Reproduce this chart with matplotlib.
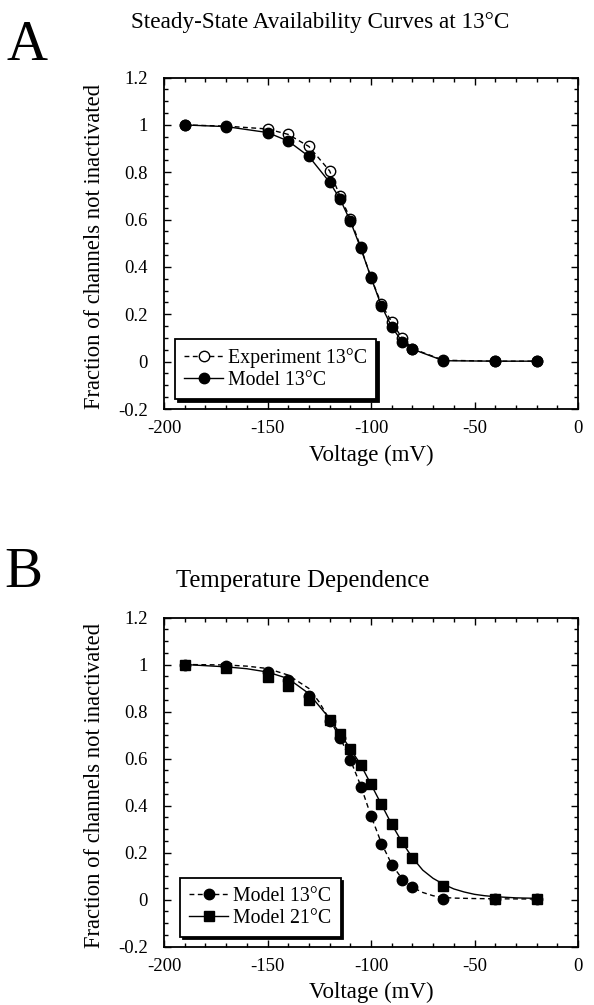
import matplotlib
matplotlib.use('Agg')
import matplotlib.pyplot as plt
from matplotlib.ticker import MultipleLocator
from matplotlib.lines import Line2D

plt.rcParams['font.family'] = ['Liberation Serif', 'DejaVu Serif']
plt.rcParams['axes.unicode_minus'] = False

# ---- data (markers) ----
voltage = [-190, -170, -150, -140, -130, -120, -115, -110, -105, -100,
           -95, -90, -85, -80, -65, -40, -20]
exp13 = [1.0, 0.995, 0.983, 0.96, 0.909, 0.806, 0.70, 0.604, 0.485, 0.355,
         0.244, 0.167, 0.10, 0.055, 0.006, 0.002, 0.002]
model13 = [1.0, 0.993, 0.968, 0.932, 0.867, 0.758, 0.688, 0.594, 0.48, 0.356,
           0.236, 0.147, 0.085, 0.053, 0.004, 0.002, 0.002]
model21 = [1.0, 0.983, 0.945, 0.908, 0.851, 0.763, 0.706, 0.642, 0.574, 0.49,
           0.405, 0.32, 0.244, 0.178, 0.057, 0.002, 0.002]

# ---- smooth curves in panel B ----
curve_v13 = [-190, -170, -160, -150, -140, -130, -125, -120, -115, -110, -105,
             -100, -95, -90, -85, -80, -75, -70, -65, -60, -50, -40, -20]
curve13 = [1.0, 0.998, 0.993, 0.983, 0.955, 0.898, 0.84, 0.765, 0.69, 0.595,
           0.485, 0.356, 0.24, 0.15, 0.088, 0.052, 0.03, 0.016, 0.009, 0.006,
           0.004, 0.003, 0.002]
curve_v21 = [-190, -170, -160, -150, -140, -130, -120, -115, -110, -105, -100,
             -95, -90, -85, -80, -75, -70, -65, -60, -55, -50, -45, -40, -30, -20]
curve21 = [1.0, 0.99, 0.982, 0.968, 0.94, 0.876, 0.77, 0.706, 0.642, 0.574,
           0.49, 0.405, 0.32, 0.244, 0.178, 0.125, 0.09, 0.065, 0.045, 0.032,
           0.022, 0.016, 0.012, 0.007, 0.005]

xticks = [-200, -150, -100, -50, 0]
xticklabels = ['-200', '-150', '-100', '-50', '0']
yticks = [-0.2, 0, 0.2, 0.4, 0.6, 0.8, 1.0, 1.2]
yticklabels = ['-0.2', '0', '0.2', '0.4', '0.6', '0.8', '1', '1.2']

title_a = 'Steady-State Availability Curves at 13°C'
title_b = 'Temperature Dependence'
xlabel = 'Voltage (mV)'
ylabel = 'Fraction of channels not inactivated'

W, H = 594, 1005
fig = plt.figure(figsize=(W / 100, H / 100), dpi=100)
axA = fig.add_axes([164 / W, 1 - 409 / H, 414 / W, 331.4 / H])
axB = fig.add_axes([164 / W, 1 - 946.5 / H, 414 / W, 329 / H])

DASH = (0, (3.5, 2.5))


def style(ax):
    ax.set_xlim(-200, 0)
    ax.set_ylim(-0.2, 1.2)
    ax.set_xticks(xticks)
    ax.set_xticklabels(xticklabels)
    ax.set_yticks(yticks)
    ax.set_yticklabels(yticklabels)
    ax.xaxis.set_minor_locator(MultipleLocator(10))
    ax.yaxis.set_minor_locator(MultipleLocator(0.05))
    ax.tick_params(which='both', direction='in', top=True, right=True,
                   width=1.0, labelsize=13.5)
    ax.tick_params(which='major', length=5)
    ax.tick_params(which='minor', length=3)
    ax.tick_params(axis='x', which='major', pad=8)
    ax.tick_params(axis='y', which='major', pad=11.5)
    for s in ax.spines.values():
        s.set_linewidth(1.3)
    ax.set_xlabel(xlabel, fontsize=16.5)
    ax.set_ylabel(ylabel, fontsize=16.3)
    ax.xaxis.set_label_coords(0.5, -0.108)
    ax.yaxis.set_label_coords(-0.143, 0.49)


def legend(ax, handles, x):
    leg = ax.legend(handles=handles, loc='lower left', bbox_to_anchor=(x, 0.03),
                    borderaxespad=0, fontsize=14.3, frameon=True,
                    fancybox=False, edgecolor='black', framealpha=1,
                    shadow={'color': 'black', 'alpha': 1},
                    handlelength=2.0, handletextpad=0.25, labelspacing=0.15,
                    borderpad=0.45)
    leg.get_frame().set_linewidth(1.3)


# ---- panel A ----
axA.plot(voltage, exp13, linestyle=DASH, color='black', lw=1.0,
         marker='o', markersize=7.5, markerfacecolor='none',
         markeredgecolor='black', markeredgewidth=1.0, zorder=2)
axA.plot(voltage, model13, linestyle='-', color='black', lw=1.0,
         marker='o', markersize=7.5, markerfacecolor='black', zorder=3)
style(axA)
legend(axA, [
    Line2D([], [], linestyle=DASH, color='black', lw=1.0, marker='o',
           markersize=7.5, markerfacecolor='white', markeredgecolor='black',
           label='Experiment 13°C'),
    Line2D([], [], linestyle='-', color='black', lw=1.0, marker='o',
           markersize=7.5, markerfacecolor='black', label='Model 13°C'),
], 0.026)

# ---- panel B ----
axB.plot(curve_v13, curve13, linestyle=DASH, color='black', lw=1.0, zorder=2)
axB.plot(curve_v21, curve21, linestyle='-', color='black', lw=1.0, zorder=2)
axB.plot(voltage, model13, linestyle='none', color='black',
         marker='o', markersize=7.5, markerfacecolor='black', zorder=3)
axB.plot(voltage, model21, linestyle='none', color='black',
         marker='s', markersize=7.5, markerfacecolor='black', zorder=4)
style(axB)
legend(axB, [
    Line2D([], [], linestyle=DASH, color='black', lw=1.0, marker='o',
           markersize=7.5, markerfacecolor='black', label='Model 13°C'),
    Line2D([], [], linestyle='-', color='black', lw=1.0, marker='s',
           markersize=7.5, markerfacecolor='black', label='Model 21°C'),
], 0.038)

# ---- titles and panel letters ----
fig.text(320 / W, 1 - 28 / H, title_a, ha='center', va='baseline', fontsize=16.7)
fig.text(303 / W, 1 - 587 / H, title_b, ha='center', va='baseline', fontsize=17.8)
fig.text(6 / W, 1 - 60 / H, 'A', ha='left', va='baseline', fontsize=41)
fig.text(4 / W, 1 - 587 / H, 'B', ha='left', va='baseline', fontsize=41)

fig.savefig('out.png', dpi=100)
